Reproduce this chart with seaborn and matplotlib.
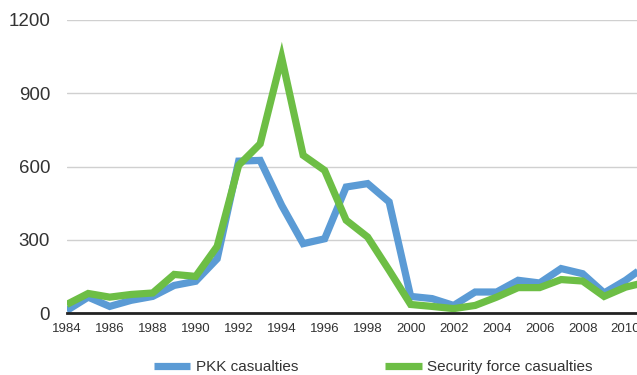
import matplotlib
matplotlib.use("Agg")
import matplotlib.pyplot as plt
import seaborn as sns
import pandas as pd

years = list(range(1984, 2012))
pkk_casualties = [10, 65, 27, 52, 68, 113, 130, 222, 622, 625, 441, 284, 304, 516,
                  530, 455, 68, 59, 31, 86, 86, 134, 123, 182, 161, 82, 134, 198]
security_casualties = [35, 80, 65, 76, 82, 158, 150, 273, 605, 693, 1046, 646, 584, 380,
                       311, 175, 35, 27, 18, 31, 65, 104, 104, 137, 131, 68, 106, 127]
series_names = ["PKK casualties", "Security force casualties"]
y_ticks = [0, 300, 600, 900, 1200]
x_ticks = list(range(1984, 2011, 2))

df = pd.DataFrame({
    "year": years * 2,
    "casualties": pkk_casualties + security_casualties,
    "series": [series_names[0]] * len(years) + [series_names[1]] * len(years),
})

sns.set_style("white")
plt.rcParams["font.family"] = ["Liberation Sans", "DejaVu Sans"]

fig = plt.figure(figsize=(6.37, 3.75), dpi=100)
ax = fig.add_axes([0.1047, 0.1653, 1.0 - 0.1047, 0.9467 - 0.1653])

palette = {series_names[0]: "#5B9BD5", series_names[1]: "#6DBE45"}
sns.lineplot(data=df, x="year", y="casualties", hue="series", palette=palette,
             linewidth=5.2, ax=ax, legend=True)
for line in ax.get_lines():
    line.set_solid_joinstyle("miter")
    line.set_solid_capstyle("butt")

ax.set_xlim(1984, 2010.53)
ax.set_ylim(0, 1200)
ax.set_yticks(y_ticks)
ax.set_xticks(x_ticks)
ax.set_xticklabels([str(x) for x in x_ticks])
ax.yaxis.grid(True, color="#D0D0D0", linewidth=1.0)
ax.set_axisbelow(True)
for s in ["top", "right", "left"]:
    ax.spines[s].set_visible(False)
ax.spines["bottom"].set_color("#222222")
ax.spines["bottom"].set_linewidth(2.0)
ax.spines["bottom"].set_zorder(5)
ax.tick_params(axis="y", length=0, pad=12, labelsize=13.5, labelcolor="#333333")
ax.tick_params(axis="x", length=0, pad=7, labelsize=9.5, labelcolor="#333333")
ax.set_xlabel("")
ax.set_ylabel("")

handles, labels = ax.get_legend_handles_labels()
ax.get_legend().remove()
leg = fig.legend(handles, labels, loc="center", bbox_to_anchor=(0.586, 0.021),
                 ncol=2, frameon=False, fontsize=11, handlelength=2.4,
                 handletextpad=0.35, columnspacing=5.7, borderpad=0)
for h in leg.get_lines():
    h.set_linewidth(5.2)
for t in leg.get_texts():
    t.set_color("#333333")

fig.savefig("out.png", dpi=100)
